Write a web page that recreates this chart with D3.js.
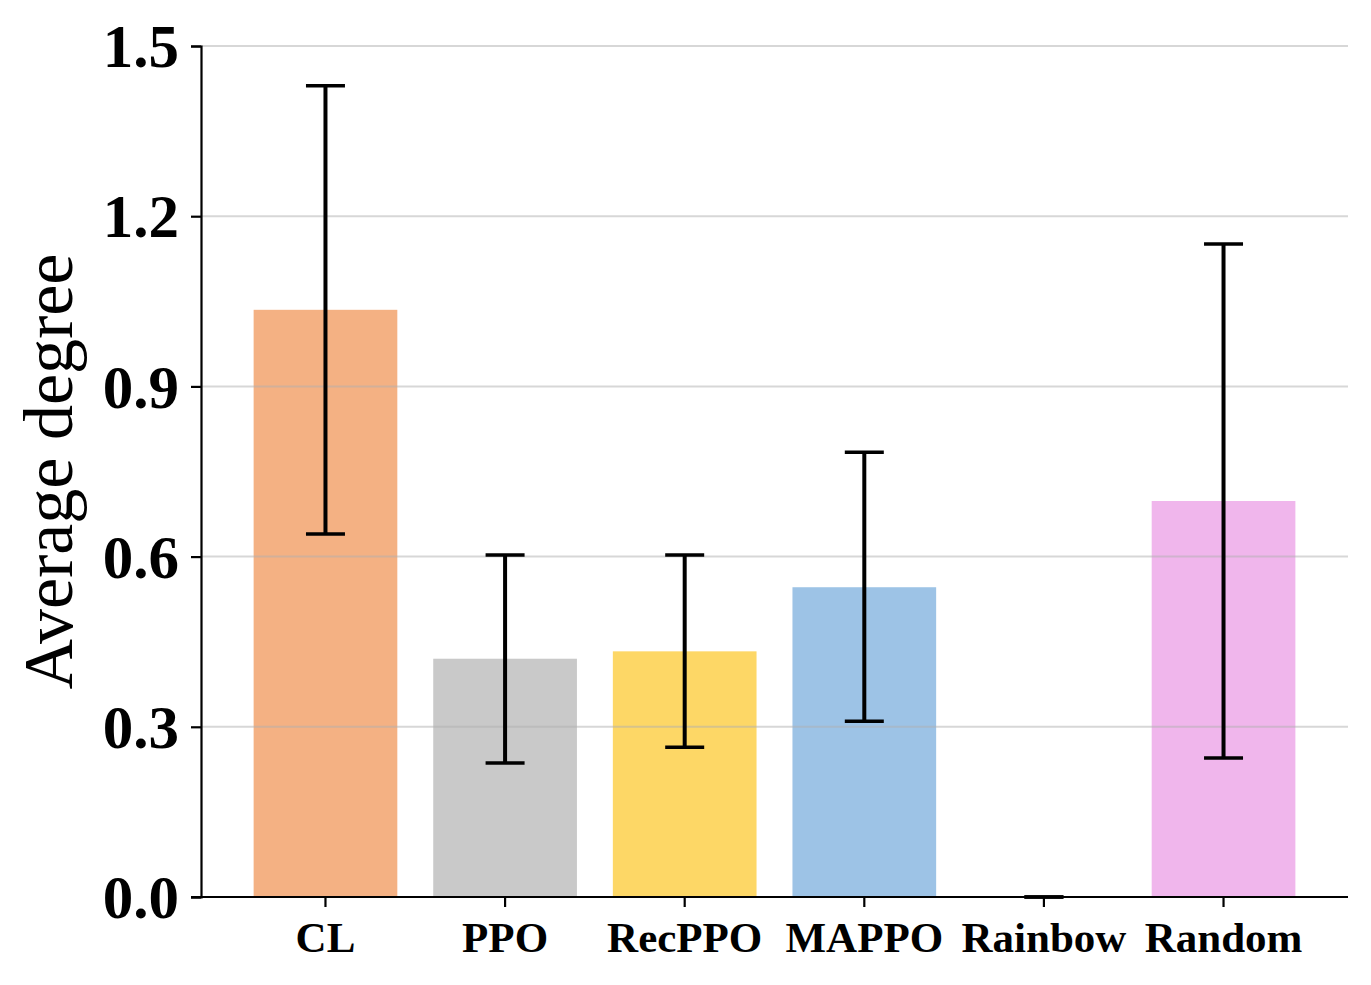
<!DOCTYPE html>
<html>
<head>
<meta charset="utf-8">
<script src="https://cdn.jsdelivr.net/npm/d3@7"></script>
<style>
  body { margin: 0; background: #fff; }
  svg { display: block; }
</style>
</head>
<body>
<svg id="chart"></svg>
<script>
// data
var methods = ["CL", "PPO", "RecPPO", "MAPPO", "Rainbow", "Random"];
var means   = [1.035, 0.42, 0.433, 0.546, 0.0, 0.698];
var errLow  = [0.640, 0.236, 0.264, 0.310, 0.0, 0.245];
var errHigh = [1.430, 0.603, 0.603, 0.784, 0.0, 1.151];
var colors  = ["#F4B183", "#C9C9C9", "#FDD766", "#9DC3E6", "#F0B6EC", "#F0B6EC"];
var yTicks  = [0, 0.3, 0.6, 0.9, 1.2, 1.5];

var screen = {width: 1371, height: 985};
var plot = {left: 201, right: 1348, top: 46, bottom: 897};

var svg = d3.select("#chart")
    .attr("width", screen.width)
    .attr("height", screen.height);

var x = d3.scaleBand()
    .domain(methods)
    .range([plot.left, plot.right])
    .paddingInner(0.2)
    .paddingOuter(0.293);

var y = d3.scaleLinear()
    .domain([0, 1.5])
    .range([plot.bottom, plot.top]);

var rows = methods.map(function(m, i) {
    return {name: m, mean: means[i], lo: errLow[i], hi: errHigh[i], color: colors[i]};
});

// bars
svg.append("g")
    .selectAll("rect")
    .data(rows.filter(function(d) { return d.mean > 0; }))
    .enter()
    .append("rect")
    .attr("x", function(d) { return x(d.name); })
    .attr("y", function(d) { return y(d.mean); })
    .attr("width", x.bandwidth())
    .attr("height", function(d) { return y(0) - y(d.mean); })
    .attr("fill", function(d) { return d.color; });

// grid over the bars
svg.append("g")
    .selectAll("line")
    .data(yTicks)
    .enter()
    .append("line")
    .attr("x1", plot.left)
    .attr("x2", plot.right)
    .attr("y1", function(d) { return y(d); })
    .attr("y2", function(d) { return y(d); })
    .attr("stroke", "#b0b0b0")
    .attr("stroke-opacity", 0.5)
    .attr("stroke-width", 2);

// error bars
var cap = 19.5;
var eb = svg.append("g")
    .attr("stroke", "#000")
    .attr("stroke-width", 4)
    .selectAll("g")
    .data(rows)
    .enter()
    .append("g");

eb.append("line")
    .attr("x1", function(d) { return x(d.name) + x.bandwidth() / 2; })
    .attr("x2", function(d) { return x(d.name) + x.bandwidth() / 2; })
    .attr("y1", function(d) { return y(d.lo); })
    .attr("y2", function(d) { return y(d.hi); });

eb.selectAll(".cap")
    .data(function(d) { return [d.lo, d.hi].map(function(v) { return {name: d.name, v: v}; }); })
    .enter()
    .append("line")
    .attr("class", "cap")
    .attr("x1", function(d) { return x(d.name) + x.bandwidth() / 2 - cap; })
    .attr("x2", function(d) { return x(d.name) + x.bandwidth() / 2 + cap; })
    .attr("y1", function(d) { return y(d.v); })
    .attr("y2", function(d) { return y(d.v); })
    .attr("stroke-width", 3.5);

// axes
var yAxis = d3.axisLeft(y)
    .tickValues(yTicks)
    .tickFormat(d3.format(".1f"))
    .tickSize(10)
    .tickPadding(12);

var xAxis = d3.axisBottom(x)
    .tickSize(10)
    .tickPadding(14);

var gy = svg.append("g")
    .attr("transform", "translate(" + plot.left + ",0)")
    .call(yAxis);

var gx = svg.append("g")
    .attr("transform", "translate(0," + plot.bottom + ")")
    .call(xAxis);

gx.select(".domain").attr("d", "M" + (plot.left - 10) + ",0H" + plot.right);

[gx, gy].forEach(function(g) {
    g.select(".domain").attr("stroke", "#000").attr("stroke-width", 2.2);
    g.selectAll(".tick line").attr("stroke", "#000").attr("stroke-width", 2.2);
});

gy.selectAll(".tick text")
    .attr("font-family", "'Liberation Serif', serif")
    .attr("font-weight", "bold")
    .attr("font-size", 61)
    .attr("fill", "#000")
    .attr("dy", "0.34em");

gx.selectAll(".tick text")
    .attr("font-family", "'Liberation Serif', serif")
    .attr("font-weight", "bold")
    .attr("font-size", 43)
    .attr("fill", "#000")
    .attr("dy", "0.71em");

// y label
svg.append("text")
    .attr("transform", "translate(72," + ((plot.top + plot.bottom) / 2) + ") rotate(-90)")
    .attr("text-anchor", "middle")
    .attr("font-family", "'Liberation Serif', serif")
    .attr("font-size", 70)
    .attr("fill", "#000")
    .text("Average degree");
</script>
</body>
</html>
